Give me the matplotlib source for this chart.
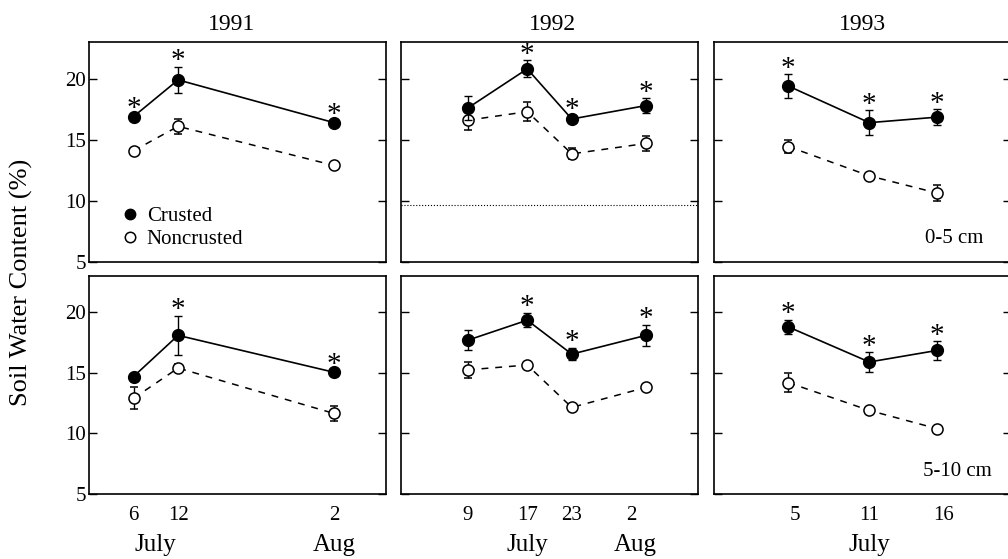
import matplotlib
matplotlib.use("Agg")
import matplotlib.pyplot as plt
from matplotlib.lines import Line2D

plt.rcParams['font.family'] = ['Liberation Serif', 'DejaVu Serif']

years = ['1991', '1992', '1993']
depths = ['0-5 cm', '5-10 cm']

# sampling days, counted from 1 July (Aug 2 -> 33)
days_1991 = [6, 12, 33]
days_1992 = [9, 17, 23, 33]
days_1993 = [5, 11, 16]

tick_pos_1991 = [6, 12, 33]
tick_lab_1991 = ['6', '12', '2']
tick_pos_1992 = [9, 17, 23, 31]
tick_lab_1992 = ['9', '17', '23', '2']
tick_pos_1993 = [5.5, 11, 16.5]
tick_lab_1993 = ['5', '11', '16']

month_pos_1991 = [9, 33]
month_lab_1991 = ['July', 'Aug']
month_pos_1992 = [17, 31.5]
month_lab_1992 = ['July', 'Aug']
month_pos_1993 = [11]
month_lab_1993 = ['July']

# 0-5 cm
crust_top_1991 = [16.9, 19.9, 16.4]
crust_top_1991_se = [0.2, 1.05, 0.15]
noncrust_top_1991 = [14.1, 16.1, 12.9]
noncrust_top_1991_se = [0.2, 0.6, 0.2]
star_top_1991 = [True, True, True]

crust_top_1992 = [17.6, 20.8, 16.7, 17.8]
crust_top_1992_se = [1.0, 0.7, 0.25, 0.6]
noncrust_top_1992 = [16.6, 17.3, 13.85, 14.7]
noncrust_top_1992_se = [0.8, 0.75, 0.45, 0.6]
star_top_1992 = [False, True, True, True]

crust_top_1993 = [19.4, 16.4, 16.85]
crust_top_1993_se = [0.95, 1.0, 0.65]
noncrust_top_1993 = [14.45, 12.05, 10.65]
noncrust_top_1993_se = [0.5, 0.15, 0.65]
star_top_1993 = [True, True, True]

# 5-10 cm
crust_bot_1991 = [14.7, 18.1, 15.05]
crust_bot_1991_se = [0.15, 1.6, 0.15]
noncrust_bot_1991 = [12.9, 15.4, 11.65]
noncrust_bot_1991_se = [0.9, 0.3, 0.65]
star_bot_1991 = [False, True, True]

crust_bot_1992 = [17.7, 19.35, 16.55, 18.1]
crust_bot_1992_se = [0.85, 0.6, 0.5, 0.85]
noncrust_bot_1992 = [15.25, 15.65, 12.15, 13.8]
noncrust_bot_1992_se = [0.65, 0.15, 0.3, 0.15]
star_bot_1992 = [False, True, True, True]

crust_bot_1993 = [18.8, 15.9, 16.85]
crust_bot_1993_se = [0.6, 0.8, 0.75]
noncrust_bot_1993 = [14.2, 11.9, 10.4]
noncrust_bot_1993_se = [0.8, 0.15, 0.15]
star_bot_1993 = [True, True, True]

yticks = [5, 10, 15, 20]


def draw_panel(ax, x, crust, crust_se, noncrust, noncrust_se, stars):
    ax.errorbar(x, noncrust, yerr=noncrust_se, fmt='o', ls=(0, (4.5, 4.5)),
                color='black', mfc='white', mec='black', ms=8, mew=1.1,
                lw=1.1, elinewidth=1, capsize=3, capthick=1, zorder=2)
    ax.errorbar(x, crust, yerr=crust_se, fmt='o-', color='black',
                mfc='black', mec='black', ms=8.5, lw=1.2, elinewidth=1,
                capsize=3, capthick=1, zorder=3)
    # significance marks
    for xi, yi, ei, s in zip(x, crust, crust_se, stars):
        if s:
            ax.annotate('*', (xi, yi + ei), xytext=(0, -1), textcoords='offset points',
                        ha='center', va='baseline', fontsize=21)


fig = plt.figure(figsize=(10.08, 5.59), dpi=100)
W, H = 1008, 559

col_left = [89, 401, 714]
col_w = 297
row_top = [42, 276]
row_h = [220, 218]

panels = [
    [(days_1991, crust_top_1991, crust_top_1991_se, noncrust_top_1991, noncrust_top_1991_se, star_top_1991),
     (days_1992, crust_top_1992, crust_top_1992_se, noncrust_top_1992, noncrust_top_1992_se, star_top_1992),
     (days_1993, crust_top_1993, crust_top_1993_se, noncrust_top_1993, noncrust_top_1993_se, star_top_1993)],
    [(days_1991, crust_bot_1991, crust_bot_1991_se, noncrust_bot_1991, noncrust_bot_1991_se, star_bot_1991),
     (days_1992, crust_bot_1992, crust_bot_1992_se, noncrust_bot_1992, noncrust_bot_1992_se, star_bot_1992),
     (days_1993, crust_bot_1993, crust_bot_1993_se, noncrust_bot_1993, noncrust_bot_1993_se, star_bot_1993)],
]
xlims = [(0, 40), (0, 40), (-0.5, 21.5)]
tick_pos = [tick_pos_1991, tick_pos_1992, tick_pos_1993]
tick_lab = [tick_lab_1991, tick_lab_1992, tick_lab_1993]
month_pos = [month_pos_1991, month_pos_1992, month_pos_1993]
month_lab = [month_lab_1991, month_lab_1992, month_lab_1993]
title_x = [0.48, 0.51, 0.5]

for r in range(2):
    for c in range(3):
        ax = fig.add_axes([col_left[c] / W, 1 - (row_top[r] + row_h[r]) / H,
                           col_w / W, row_h[r] / H])
        draw_panel(ax, *panels[r][c])
        ax.set_xlim(*xlims[c])
        ax.set_ylim(5, 23)
        ax.set_yticks(yticks)
        ax.tick_params(axis='y', direction='in', length=6, width=1,
                       left=True, right=True, labelsize=15, pad=2,
                       labelleft=(c == 0))
        for sp in ax.spines.values():
            sp.set_linewidth(1.2)
        if r == 0:
            ax.set_xticks([])
            ax.set_title(years[c], fontsize=17, pad=9, x=title_x[c])
        else:
            ax.set_xticks(tick_pos[c])
            ax.set_xticklabels(tick_lab[c])
            ax.tick_params(axis='x', length=0, labelsize=15, pad=9)
            for mp, ml in zip(month_pos[c], month_lab[c]):
                ax.text(mp, -0.235, ml, transform=ax.get_xaxis_transform(),
                        ha='center', va='center', fontsize=18)
        if c == 2:
            ax.text(0.81 if r == 0 else 0.82, 0.105, depths[r],
                    transform=ax.transAxes, ha='center', va='center', fontsize=15)
        if r == 0 and c == 1:
            ax.axhline(9.7, color='black', ls=':', lw=0.8)
        if r == 0 and c == 0:
            handles = [Line2D([], [], ls='none', marker='o', color='black', ms=7.5),
                       Line2D([], [], ls='none', marker='o', mfc='white', mec='black',
                              color='black', ms=7.5, mew=1.1)]
            ax.legend(handles, ['Crusted', 'Noncrusted'], loc='lower left',
                      bbox_to_anchor=(0.11, 0.06), frameon=False, fontsize=15,
                      handlelength=0.8, handletextpad=0.4, labelspacing=0.15,
                      borderpad=0, borderaxespad=0)

fig.text(0.021, 0.4955, 'Soil Water Content (%)', rotation=90,
         ha='center', va='center', fontsize=19)

fig.savefig('out.png', dpi=100)
